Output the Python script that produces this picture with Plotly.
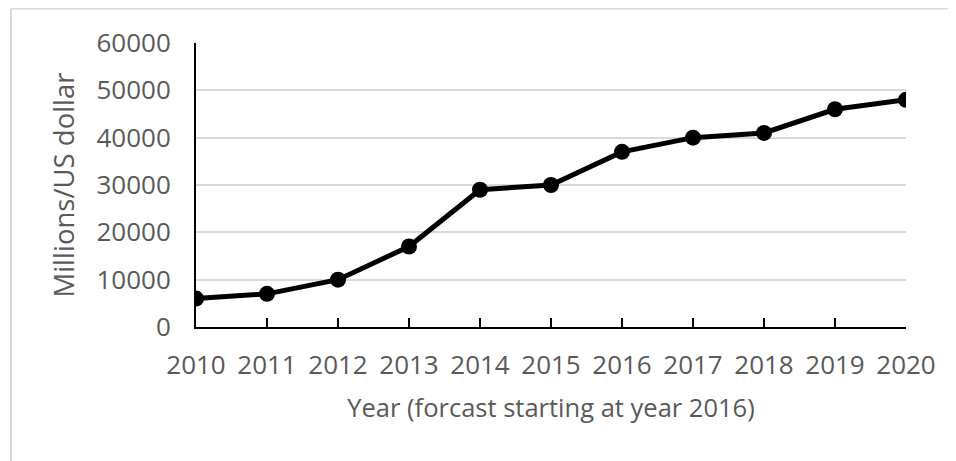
import plotly.graph_objects as go

years = ["2010", "2011", "2012", "2013", "2014", "2015", "2016", "2017", "2018", "2019", "2020"]
values = [6000, 7000, 10000, 17000, 29000, 30000, 37000, 40000, 41000, 46000, 48000]
y_ticks = [0, 10000, 20000, 30000, 40000, 50000, 60000]

FONT = "Open Sans"
GREY = "#595959"

fig = go.Figure()
fig.add_trace(go.Scatter(
    x=years, y=values, mode="lines+markers",
    line=dict(color="black", width=5),
    marker=dict(color="black", size=16),
    showlegend=False,
))

# page body has an 8px margin; compensate so the plot lands where it should
OFF = 8
W, H = 956 - OFF, 461 - OFF
L, R, T, B = 196 - OFF, 50, 43 - OFF, 134
pw, ph = W - L - R, H - T - B

fig.update_layout(
    width=W, height=H,
    margin=dict(l=L, r=R, t=T, b=B),
    paper_bgcolor="white", plot_bgcolor="white",
    font=dict(family=FONT, size=26, color=GREY),
    xaxis=dict(
        type="category", range=[0, len(years) - 1],
        showline=True, linecolor="black", linewidth=2,
        ticks="inside", ticklen=9, tickwidth=2, tickcolor="black",
        showgrid=False, zeroline=False,
        tickfont=dict(family=FONT, size=26, color=GREY),
        ticklabelstandoff=14,
        title=dict(text="Year (forcast starting at year 2016)", font=dict(family=FONT, size=25.5, color=GREY), standoff=18),
        automargin=False,
    ),
    yaxis=dict(
        range=[0, 60000], tickvals=y_ticks, ticktext=[str(v) for v in y_ticks],
        showline=True, linecolor="black", linewidth=2,
        showgrid=True, gridcolor="#d9d9d9", gridwidth=1.5,
        zeroline=False, ticks="",
        tickfont=dict(family=FONT, size=26, color=GREY),
        ticklabelstandoff=18,
        title=dict(text="Millions/US dollar", font=dict(family=FONT, size=27.5, color=GREY), standoff=14),
        automargin=False,
    ),
)

# light grey chart-area frame (top and left edges visible)
x0 = (11 - OFF - L) / pw
y0 = (H - B - 0.5) / ph
fig.add_shape(type="line", xref="paper", yref="paper", x0=x0, x1=(W + 10 - L) / pw, y0=y0, y1=y0,
              line=dict(color="#d9d9d9", width=2))
fig.add_shape(type="line", xref="paper", yref="paper", x0=x0, x1=x0, y0=y0, y1=(H - B - H - 10) / ph,
              line=dict(color="#d9d9d9", width=2))

fig.write_html("out.html")
